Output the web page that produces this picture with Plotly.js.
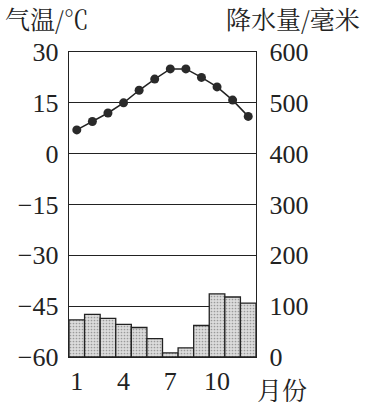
<!DOCTYPE html>
<html>
<head>
<meta charset="utf-8">
<script src="https://cdn.plot.ly/plotly-3.0.1.min.js"></script>
<style>html,body{margin:0;padding:0;background:#fff;}#chart{width:365px;height:412px;}</style>
</head>
<body>
<div id="chart"></div>
<script>
var months = [1,2,3,4,5,6,7,8,9,10,11,12];
var temperature = [7, 9.5, 12, 15, 18.7, 22, 25, 25, 22.5, 19.7, 15.8, 11];
var precipitation = [73, 84, 76, 64, 58, 36, 8, 18, 62, 124, 118, 106];
var tempTicks = [30, 15, 0, -15, -30, -45, -60];
var precTicks = [600, 500, 400, 300, 200, 100, 0];
var monthTicks = [1, 4, 7, 10];

var serif = "Liberation Serif, Times New Roman, serif";
var cjk = "Noto Serif CJK SC, Noto Sans CJK SC, sans-serif";
var ink = "#222";

var traces = [
  {
    type: "bar", x: months, y: precipitation, yaxis: "y2",
    marker: {
      color: "#d6d6d6",
      line: {color: ink, width: 1.3},
      pattern: {shape: ".", bgcolor: "#dcdcdc", fgcolor: "#9a9a9a", size: 3, solidity: 0.25}
    },
    hoverinfo: "skip"
  },
  {
    type: "scatter", mode: "lines+markers", x: months, y: temperature,
    line: {color: ink, width: 1.5},
    marker: {color: "#2a2a2a", size: 9},
    hoverinfo: "skip"
  }
];

var layout = {
  width: 365, height: 412,
  margin: {l: 69, r: 109, t: 52, b: 55},
  paper_bgcolor: "#fff", plot_bgcolor: "#fff",
  showlegend: false,
  bargap: 0,
  font: {family: serif, color: ink, size: 26},
  xaxis: {
    range: [0.5, 12.5], tickvals: monthTicks, ticktext: monthTicks.map(String),
    showgrid: false, zeroline: false, ticks: "",
    showline: true, mirror: true, linecolor: ink, linewidth: 1.3,
    tickfont: {family: serif, size: 26, color: ink}
  },
  yaxis: {
    range: [-60, 30], tickvals: tempTicks, ticktext: tempTicks.map(function(v){return v < 0 ? "\u2212" + Math.abs(v) : String(v);}),
    showgrid: true, gridcolor: ink, gridwidth: 1.3, zeroline: false, ticks: "",
    showline: true, linecolor: ink, linewidth: 1.3, ticklabelstandoff: 4,
    tickfont: {family: serif, size: 26, color: ink}
  },
  yaxis2: {
    range: [0, 600], tickvals: precTicks, ticktext: precTicks.map(String),
    overlaying: "y", side: "right", showgrid: false, zeroline: false, ticks: "",
    showline: true, linecolor: ink, linewidth: 1.3, ticklabelstandoff: 7,
    tickfont: {family: serif, size: 26, color: ink}
  },
  annotations: [
    {text: "气温/℃", xref: "paper", yref: "paper", x: -0.353, y: 1.112, xanchor: "left", yanchor: "middle", showarrow: false, font: {family: cjk, size: 25, color: ink}},
    {text: "降水量/毫米", xref: "paper", yref: "paper", x: 1.567, y: 1.112, xanchor: "right", yanchor: "middle", showarrow: false, font: {family: cjk, size: 25, color: ink}},
    {text: "月份", xref: "paper", yref: "paper", x: 0.995, y: -0.105, xanchor: "left", yanchor: "middle", showarrow: false, font: {family: cjk, size: 25, color: ink}}
  ]
};

Plotly.newPlot("chart", traces, layout, {staticPlot: true, displayModeBar: false});
</script>
</body>
</html>
